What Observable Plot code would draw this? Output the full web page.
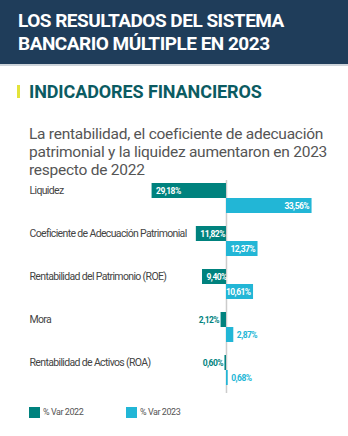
<!DOCTYPE html>
<html>
<head>
<meta charset="utf-8">
<script src="https://cdn.jsdelivr.net/npm/d3@7"></script>
<script src="https://cdn.jsdelivr.net/npm/@observablehq/plot@0.6"></script>
<style>
  body { margin:0; background:#fff; width:348px; height:436px; position:relative; overflow:hidden; font-family: Roboto, "Liberation Sans", sans-serif; }
  #header { position:absolute; left:0; top:0; width:348px; height:64px; background:#1f3d5a; border-bottom:2px solid #cdd4da; }
  #title { position:absolute; left:18px; top:9px; color:#fff; font-weight:700; font-size:19px; line-height:23px; letter-spacing:-0.5px; white-space:nowrap; }
  #bar { position:absolute; left:17px; top:85px; width:3px; height:13px; background:#e3e33a; }
  #section { position:absolute; left:29px; top:83px; color:#0b5b62; font-weight:700; font-size:18px; line-height:18px; letter-spacing:-0.1px; white-space:nowrap; }
  #subtitle { position:absolute; left:29px; top:125px; color:#555; font-size:15.5px; line-height:18px; letter-spacing:-0.25px; white-space:nowrap; }
  #chart { position:absolute; left:0; top:178px; }
  #chart text.cat { letter-spacing:-0.65px; }
  #chart text.val { letter-spacing:-0.55px; }
  #legend { position:absolute; left:0; top:406px; width:348px; height:14px; font-size:9px; letter-spacing:-0.45px; color:#555; }
  .sw { position:absolute; top:1px; width:11px; height:11px; }
  .lt { position:absolute; top:0px; line-height:13px; }
</style>
</head>
<body>
<div id="header"></div>
<div id="title">LOS RESULTADOS DEL SISTEMA<br>BANCARIO MÚLTIPLE EN 2023</div>
<div id="bar"></div>
<div id="section">INDICADORES FINANCIEROS</div>
<div id="subtitle">La rentabilidad, el coeficiente de adecuación<br>patrimonial y la liquidez aumentaron en 2023<br>respecto de 2022</div>
<div id="chart"></div>
<div id="legend"></div>
<script>
const categories = ["Liquidez", "Coeficiente de Adecuación Patrimonial", "Rentabilidad del Patrimonio (ROE)", "Mora", "Rentabilidad de Activos (ROA)"];
const var2022 = [29.18, 11.82, 9.40, 2.12, 0.60];
const var2023 = [33.56, 12.37, 10.61, 2.87, 0.68];
const seriesNames = ["% Var 2022", "% Var 2023"];
const colors = ["#00827e", "#22b6d6"];

const fmt = v => v.toFixed(2).replace(".", ",") + "%";
const d22 = categories.map((c, i) => ({cat: c, value: var2022[i]}));
const d23 = categories.map((c, i) => ({cat: c, value: var2023[i]}));
const inside = d => d.value >= 5;
const outside = d => d.value < 5;
const valStyle = {fontSize: 8.5, fontWeight: "bold", className: "val"};

const plot = Plot.plot({
  width: 348,
  height: 215,
  marginLeft: 29,
  marginRight: 19,
  marginTop: 2,
  marginBottom: 0,
  style: {fontFamily: "Roboto, sans-serif", background: "transparent", overflow: "visible"},
  x: {domain: [-77.25, 40.4], axis: null},
  y: {domain: categories, axis: null, paddingInner: 13 / 43, paddingOuter: 0.1278, align: 0.273},
  marks: [
    Plot.ruleX([0], {stroke: "#cccccc", strokeWidth: 1.5}),
    Plot.barX(d22, {x1: 0, x2: d => -d.value, y: "cat", fill: colors[0], insetBottom: 15}),
    Plot.barX(d23, {x1: 0, x2: d => d.value, y: "cat", fill: colors[1], insetTop: 15}),
    Plot.text(d22, {y: "cat", text: "cat", frameAnchor: "left", textAnchor: "start", dy: -7.5, fill: "#444", fontSize: 10.5, className: "cat"}),
    Plot.text(d22.filter(inside), {x: d => -d.value, y: "cat", text: d => fmt(d.value), dy: -7.5, dx: 4, textAnchor: "start", fill: "white", ...valStyle}),
    Plot.text(d22.filter(outside), {x: d => -d.value, y: "cat", text: d => fmt(d.value), dy: -7.5, dx: -2, textAnchor: "end", fill: colors[0], ...valStyle}),
    Plot.text(d23.filter(inside), {x: d => d.value, y: "cat", text: d => fmt(d.value), dy: 7.5, dx: -3, textAnchor: "end", fill: "white", ...valStyle}),
    Plot.text(d23.filter(outside), {x: d => d.value, y: "cat", text: d => fmt(d.value), dy: 7.5, dx: 3, textAnchor: "start", fill: colors[1], ...valStyle})
  ]
});
// apply class names to text elements (fallback if className option unsupported)
const groups = plot.querySelectorAll("g[aria-label='text']");
groups.forEach((g, i) => g.querySelectorAll("text").forEach(t => t.classList.add(i === 0 ? "cat" : "val")));
document.getElementById("chart").appendChild(plot);

const legend = document.getElementById("legend");
const lx = [29, 126];
seriesNames.forEach((name, i) => {
  const sw = document.createElement("div");
  sw.className = "sw"; sw.style.left = lx[i] + "px"; sw.style.background = colors[i];
  legend.appendChild(sw);
  const t = document.createElement("div");
  t.className = "lt"; t.style.left = (lx[i] + 14) + "px"; t.textContent = name;
  legend.appendChild(t);
});
</script>
</body>
</html>
